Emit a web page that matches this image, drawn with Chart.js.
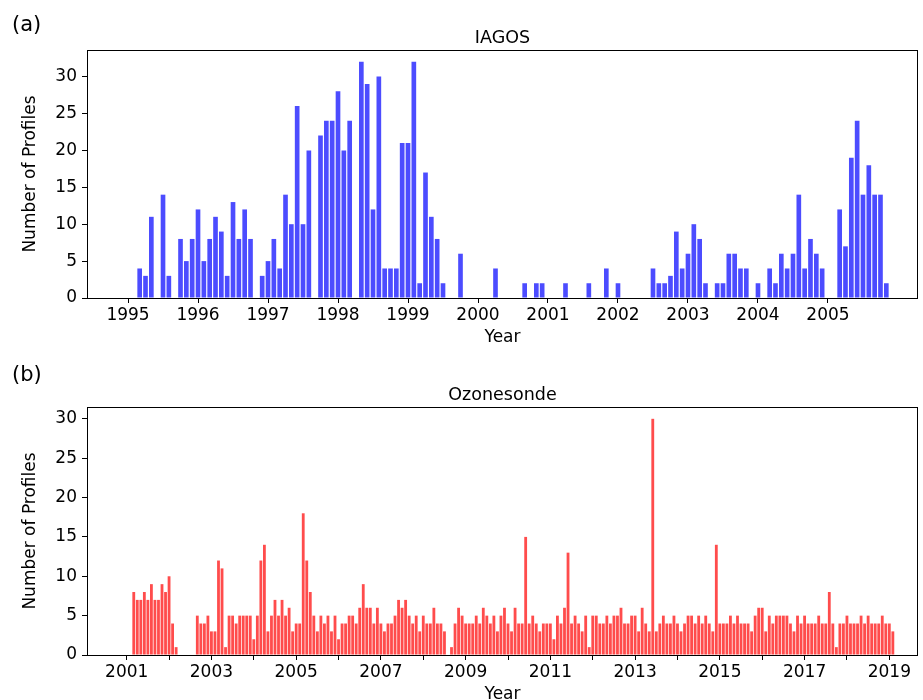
<!DOCTYPE html>
<html lang="en">
<head>
<meta charset="UTF-8" />
<title>Number of Profiles</title>
<script src="https://cdn.jsdelivr.net/npm/chart.js@4.4.1/dist/chart.umd.min.js"></script>
<style>
  html, body { margin: 0; padding: 0; background: #fff; overflow: hidden; }
  canvas { position: absolute; left: 0; }
</style>
</head>
<body>
<canvas id="iagosChart" width="923" height="350" style="top:0"></canvas>
<canvas id="ozoneChart" width="923" height="357" style="top:350px"></canvas>

<script>
// monthly profile counts, first value = January of the start year
const iagosStart = 1995;
const iagosCounts = [
  0, 0, 4, 3, 11, 0, 14, 3, 0, 8, 5, 8,        // 1995
  12, 5, 8, 11, 9, 3, 13, 8, 12, 8, 0, 3,      // 1996
  5, 8, 4, 14, 10, 26, 10, 20, 0, 22, 24, 24,  // 1997
  28, 20, 24, 0, 32, 29, 12, 30, 4, 4, 4, 21,  // 1998
  21, 32, 2, 17, 11, 8, 2, 0, 0, 6, 0, 0,      // 1999
  0, 0, 0, 4, 0, 0, 0, 0, 2, 0, 2, 2,          // 2000
  0, 0, 0, 2, 0, 0, 0, 2, 0, 0, 4, 0,          // 2001
  2, 0, 0, 0, 0, 0, 4, 2, 2, 3, 9, 4,          // 2002
  6, 10, 8, 2, 0, 2, 2, 6, 6, 4, 4, 0,         // 2003
  2, 0, 4, 2, 6, 4, 6, 14, 4, 8, 6, 4,         // 2004
  0, 0, 12, 7, 19, 24, 14, 18, 14, 14, 2       // 2005
];
const iagosTicks = [1995, 1996, 1997, 1998, 1999, 2000, 2001, 2002, 2003, 2004, 2005];

const ozoneStart = 2001;
const ozoneCounts = [
  0, 0, 8, 7, 7, 8, 7, 9, 7, 7, 9, 8,          // 2001
  10, 4, 1, 0, 0, 0, 0, 0, 5, 4, 4, 5,         // 2002
  3, 3, 12, 11, 1, 5, 5, 4, 5, 5, 5, 5,        // 2003
  2, 5, 12, 14, 3, 5, 7, 5, 7, 5, 6, 3,        // 2004
  4, 4, 18, 12, 8, 5, 3, 5, 4, 5, 3, 5,        // 2005
  2, 4, 4, 5, 5, 4, 6, 9, 6, 6, 4, 6,          // 2006
  4, 3, 4, 4, 5, 7, 6, 7, 5, 4, 5, 3,          // 2007
  5, 4, 4, 6, 4, 4, 3, 0, 1, 4, 6, 5,          // 2008
  4, 4, 4, 5, 4, 6, 5, 4, 5, 3, 5, 6,          // 2009
  4, 3, 6, 4, 4, 15, 4, 5, 4, 3, 4, 4,         // 2010
  4, 2, 5, 4, 6, 13, 4, 5, 4, 3, 5, 1,         // 2011
  5, 5, 4, 4, 5, 4, 5, 5, 6, 4, 4, 5,          // 2012
  5, 3, 6, 4, 3, 30, 3, 4, 5, 4, 4, 5,         // 2013
  4, 3, 4, 5, 5, 4, 5, 4, 5, 4, 3, 14,         // 2014
  4, 4, 4, 5, 4, 5, 4, 4, 4, 3, 5, 6,          // 2015
  6, 3, 5, 4, 5, 5, 5, 5, 4, 3, 5, 4,          // 2016
  5, 4, 4, 4, 5, 4, 4, 8, 4, 1, 4, 4,          // 2017
  5, 4, 4, 4, 5, 4, 5, 4, 4, 4, 5, 4,          // 2018
  4, 3                                         // 2019
];
const ozoneTicks = [2001, 2002, 2003, 2004, 2005, 2006, 2007, 2008, 2009, 2010,
  2011, 2012, 2013, 2014, 2015, 2016, 2017, 2018, 2019];
const ozoneLabels = [2001, 2003, 2005, 2007, 2009, 2011, 2013, 2015, 2017, 2019];

const countTicks = [0, 5, 10, 15, 20, 25, 30];

Chart.defaults.font.family = "'DejaVu Sans', sans-serif";
Chart.defaults.font.size = 17;
Chart.defaults.color = '#000';

// frame round the plot, panel title and (a)/(b) tag
const framePlugin = {
  id: 'frame',
  afterDraw(chart, args, opts) {
    const ctx = chart.ctx;
    const a = chart.chartArea;
    ctx.save();
    ctx.strokeStyle = '#000';
    ctx.lineWidth = 1;
    const l = Math.round(a.left) + 0.5, t = Math.round(a.top) + 0.5;
    const r = Math.round(a.right) - 0.5, b = Math.round(a.bottom) + 0.5;
    ctx.strokeRect(l, t, r - l, b - t);
    ctx.fillStyle = '#000';
    ctx.textBaseline = 'middle';
    ctx.textAlign = 'center';
    ctx.font = "17.5px 'DejaVu Sans'";
    ctx.fillText(opts.title, (a.left + a.right) / 2, a.top - 12);
    ctx.textAlign = 'left';
    ctx.font = "21px 'DejaVu Sans'";
    ctx.fillText(opts.tag, 12, 26);
    ctx.restore();
  }
};

function makePanel(id, start, counts, color, xMin, xMax, yMax, xTicks, labelYears, title, tag, topPad) {
  const points = counts.map((c, i) => ({ x: start + i / 12, y: c }));
  return new Chart(document.getElementById(id), {
    type: 'bar',
    data: {
      datasets: [{
        data: points,
        backgroundColor: color,
        borderWidth: 0,
        barPercentage: 0.8,
        categoryPercentage: 1.0
      }]
    },
    options: {
      responsive: false,
      animation: false,
      layout: { padding: { left: 16, right: 5, top: topPad, bottom: 0 } },
      plugins: {
        legend: { display: false },
        tooltip: { enabled: false },
        frame: { title: title, tag: tag }
      },
      scales: {
        x: {
          type: 'linear',
          min: xMin,
          max: xMax,
          offset: false,
          border: { display: false },
          grid: { offset: false, drawOnChartArea: false, drawTicks: true, tickLength: 5, color: '#000' },
          ticks: {
            padding: 2,
            maxRotation: 0,
            autoSkip: false,
            callback: (v) => labelYears.includes(v) ? String(v) : ''
          },
          afterBuildTicks: (s) => { s.ticks = xTicks.map(v => ({ value: v })); },
          afterFit: (s) => { s.height = 52; },
          title: { display: true, text: 'Year', padding: { top: 4, bottom: 2 } }
        },
        y: {
          min: 0,
          max: yMax,
          border: { display: false },
          grid: { drawOnChartArea: false, drawTicks: true, tickLength: 5, color: '#000' },
          ticks: { padding: 5 },
          afterBuildTicks: (s) => { s.ticks = countTicks.map(v => ({ value: v })); },
          afterFit: (s) => { s.width = 71; },
          title: { display: true, text: 'Number of Profiles', padding: { top: 4, bottom: 4 } }
        }
      }
    },
    plugins: [framePlugin]
  });
}

makePanel('iagosChart', iagosStart, iagosCounts, 'rgba(0, 0, 255, 0.7)',
  1994.414, 2006.286, 33.6, iagosTicks, iagosTicks, 'IAGOS', '(a)', 50);
makePanel('ozoneChart', ozoneStart, ozoneCounts, 'rgba(255, 0, 0, 0.7)',
  2000.063, 2019.677, 31.5, ozoneTicks, ozoneLabels, 'Ozonesonde', '(b)', 57);
</script>
</body>
</html>
